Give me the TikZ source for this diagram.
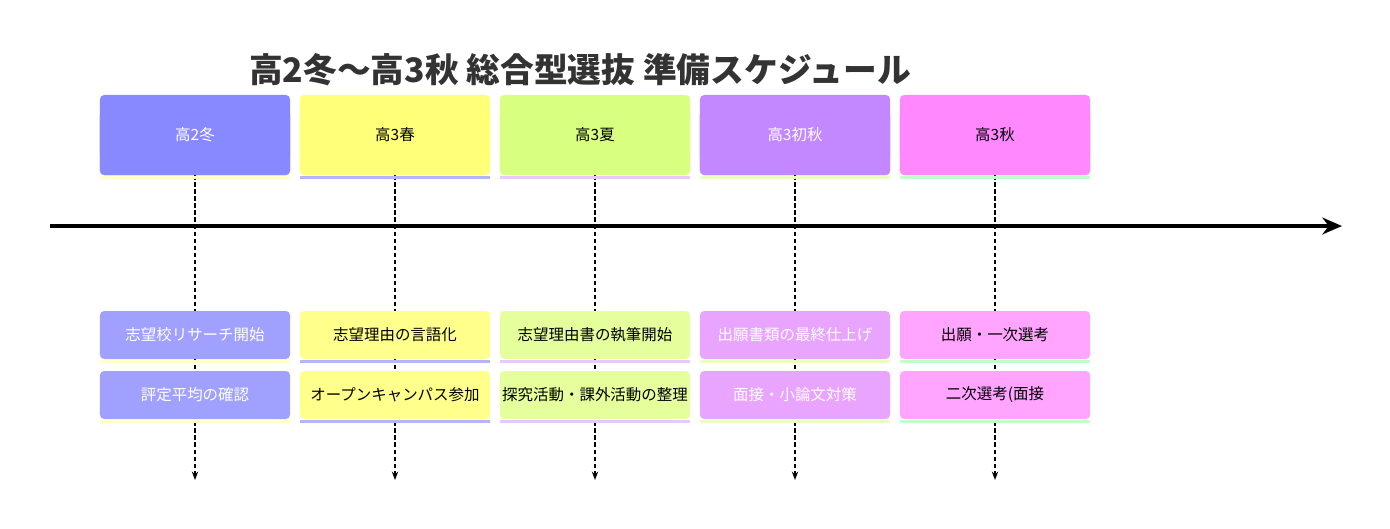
\documentclass[tikz,border=0pt]{standalone}
\usepackage{fontspec}
\setmainfont{Noto Sans CJK JP}
\usetikzlibrary{positioning,arrows.meta}
\definecolor{hA}{HTML}{8888FF}\definecolor{eA}{HTML}{A0A0FF}\definecolor{sA}{HTML}{FFFFC8}
\definecolor{hB}{HTML}{FFFF78}\definecolor{eB}{HTML}{FFFF8C}\definecolor{sB}{HTML}{B4B4FF}
\definecolor{hC}{HTML}{D9FF80}\definecolor{eC}{HTML}{E4FF9C}\definecolor{sC}{HTML}{E8C8FF}
\definecolor{hD}{HTML}{C388FF}\definecolor{eD}{HTML}{E8A4FF}\definecolor{sD}{HTML}{E8FFC0}
\definecolor{hE}{HTML}{FF88FF}\definecolor{eE}{HTML}{FFA4FF}\definecolor{sE}{HTML}{C0FFC8}
\tikzset{
  period/.style={rectangle, rounded corners=3pt, minimum width=4.75cm, minimum height=1.6cm, inner sep=0pt, font=\fontsize{11}{13}\selectfont},
  event/.style={rectangle, rounded corners=3pt, minimum width=4.75cm, minimum height=1.2cm, inner sep=0pt, font=\fontsize{11}{13}\selectfont},
  stripe/.style={minimum width=4.75cm, minimum height=0.08cm, inner sep=0pt},
  guide/.style={densely dashed, line width=1pt, -{Stealth[length=6pt]}}
}
\begin{document}
\begin{tikzpicture}[x=0.025cm, y=-0.025cm]
\useasboundingbox (0,0) rectangle (1390,528);
\node at (580,70) [font=\bfseries\fontsize{24}{28}\selectfont, text=black!80] {高2冬〜高3秋 総合型選抜 準備スケジュール};
% time axis
\coordinate (axisL) at (50,226);
\coordinate (axisR) at (1342,226);
\draw [line width=2.2pt, -{Stealth[length=14pt, width=12pt]}] (axisL) -- (axisR);
\foreach \i/\nm/\fa/\fb/\fs/\tc/\ta/\tb in {
  0/A/hA/eA/sA/white/志望校リサーチ開始/評定平均の確認,
  1/B/hB/eB/sB/black/志望理由の言語化/オープンキャンパス参加,
  2/C/hC/eC/sC/black/志望理由書の執筆開始/探究活動・課外活動の整理,
  3/D/hD/eD/sD/white/出願書類の最終仕上げ/面接・小論文対策,
  4/E/hE/eE/sE/black/出願・一次選考/二次選考(面接/プレゼン)}
{
  \coordinate (end\nm) at (195+200*\i,480);
  \node (per\nm) at (195+200*\i,143) [period, fill=\fa] {};
  \draw [guide] (per\nm.south) -- (end\nm);
  \node at (per\nm) [period, fill=\fa, text=\tc, yshift=0.4cm] {};
  \node (per\nm) at (195+200*\i,143) [period, fill=\fa] {};
  \node at (195+200*\i,135) [text=\tc, font=\fontsize{11}{13}\selectfont] {\ifnum\i=0 高2冬\fi\ifnum\i=1 高3春\fi\ifnum\i=2 高3夏\fi\ifnum\i=3 高3初秋\fi\ifnum\i=4 高3秋\fi};
  \node [stripe, fill=\fs, below=0pt of per\nm] {};
  \node (evA\nm) at (195+200*\i,335) [event, fill=\fb, text=\tc] {\ta};
  \node [stripe, fill=\fs, below=0pt of evA\nm] {};
  \node (evB\nm) at (195+200*\i,395) [event, fill=\fb, text=\tc] {\tb};
  \node [stripe, fill=\fs, below=0pt of evB\nm] {};
}
\end{tikzpicture}
\end{document}
